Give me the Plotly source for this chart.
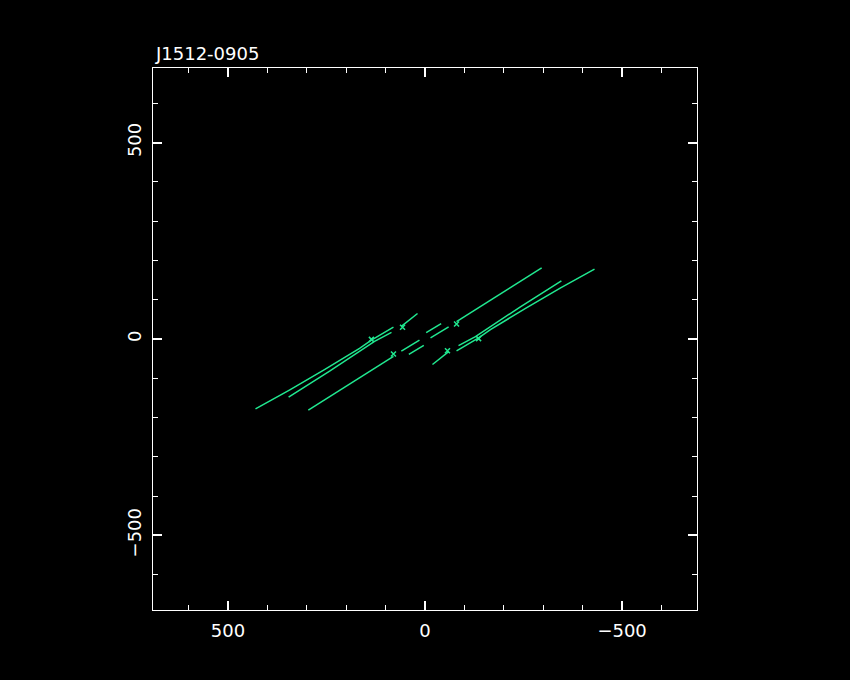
import plotly.graph_objects as go

# UV tracks (u, v) for one half; conjugate points (-u, -v) drawn as well
track1_u = [430, 344, 255, 166, 136, 80]
track1_v = [-178, -130, -78, -24, -3, 30]
track2_u = [346, 242, 128, 85, None, 60, 19]
track2_v = [-148, -82, -6, 17, None, 32, 65]
track3_u = [296, 153, 80, None, 60, 14]
track3_v = [-181, -91, -44, None, -31, -3]
track4_u = [41, 3]
track4_v = [-39, -16]
flag_u = [136, 57, 80]
flag_v = [-1, 30, -38]

title_text = "J1512-0905"
tick_vals = [-500, 0, 500]
tick_text = ["\u2212500", "0", "500"]

GREEN = "#20e890"
tracks = [(track1_u, track1_v), (track2_u, track2_v), (track3_u, track3_v), (track4_u, track4_v)]

def neg(a):
    return [None if x is None else -x for x in a]

fig = go.Figure()
for u, v in tracks:
    for uu, vv in ((u, v), (neg(u), neg(v))):
        fig.add_trace(go.Scatter(x=uu, y=vv, mode="lines",
                                 line=dict(color=GREEN, width=1.5),
                                 connectgaps=False, showlegend=False, hoverinfo="skip"))
fig.add_trace(go.Scatter(x=flag_u + neg(flag_u), y=flag_v + neg(flag_v), mode="markers",
                         marker=dict(symbol="x-thin", size=5, line=dict(color=GREEN, width=1.5), color=GREEN),
                         showlegend=False, hoverinfo="skip"))

axis_common = dict(
    showgrid=False, zeroline=False, showline=True, linecolor="white", linewidth=1,
    mirror="ticks", ticks="inside", ticklen=9, tickwidth=2, tickcolor="white",
    tickvals=tick_vals, ticktext=tick_text,
    tickfont=dict(family="DejaVu Sans", size=18, color="white"),
    minor=dict(dtick=100, tick0=0, ticks="inside", ticklen=5, tickwidth=1, tickcolor="white"),
)

fig.update_layout(
    width=850, height=680,
    paper_bgcolor="black", plot_bgcolor="black",
    margin=dict(l=153, r=153, t=68, b=70),
    xaxis=dict(range=[690, -690], ticklabelstandoff=4, **axis_common),
    yaxis=dict(range=[-690, 690], tickangle=-90, ticklabelstandoff=4, **axis_common),
    annotations=[dict(text=title_text, x=0, y=1.027, xref="paper", yref="paper",
                      xanchor="left", yanchor="middle", showarrow=False,
                      font=dict(family="DejaVu Sans", size=18, color="white"))],
)

fig.write_html("out.html", config={"displayModeBar": False},
               post_script="document.body.style.margin='0';document.body.style.background='black';")
